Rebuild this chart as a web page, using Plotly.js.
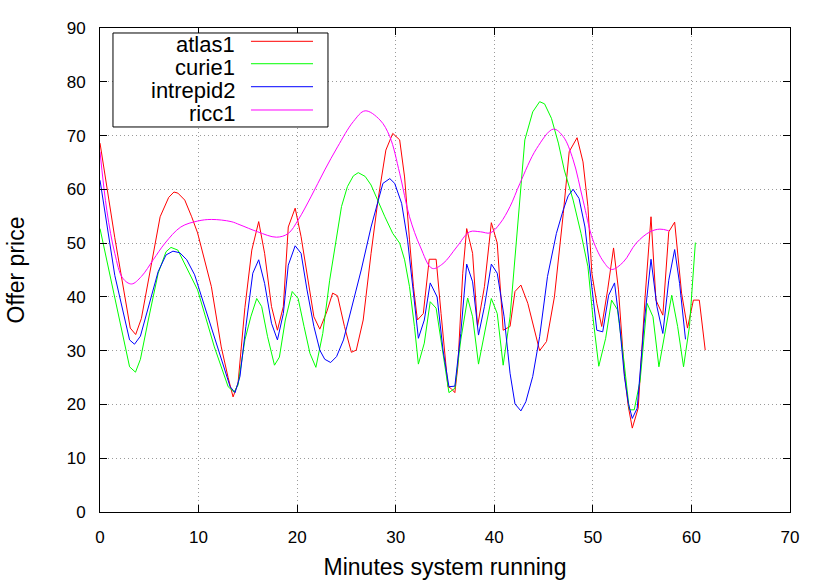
<!DOCTYPE html>
<html>
<head>
<meta charset="utf-8">
<script src="https://cdn.plot.ly/plotly-3.0.1.min.js"></script>
<style>html,body{margin:0;padding:0;background:#fff;}#chart{width:830px;height:581px;}</style>
</head>
<body>
<div id="chart"></div>
<script>
const seriesNames = ['atlas1', 'curie1', 'intrepid2', 'ricc1'];
const xTickValues = [0, 10, 20, 30, 40, 50, 60, 70];
const yTickValues = [0, 10, 20, 30, 40, 50, 60, 70, 80, 90];

const atlasMinutes = [0,1.5,3.07,3.62,4.2,5.2,6.1,6.97,7.5,7.9,8.6,9.3,9.9,11.3,12.3,13.0,13.5,14.0,14.7,15.4,16.1,16.7,17.4,18.0,18.6,19.1,19.8,20.4,21.1,21.7,22.3,23.0,23.6,24.1,24.8,25.5,26.0,26.7,27.5,28.2,29.0,29.7,30.4,30.9,31.4,31.8,32.2,32.8,33.4,34.1,34.6,35.3,35.6,36.0,36.3,36.8,37.2,37.8,38.3,39.0,39.7,40.3,40.9,41.6,42.1,42.7,43.4,44.1,44.6,45.3,46.1,47.0,47.6,48.4,49.0,49.5,49.9,50.4,50.9,51.5,52.1,52.6,53.2,53.6,54.0,54.6,55.3,55.9,56.4,57.1,57.7,58.3,59.0,59.6,60.2,60.8,61.4];
const atlasPrice = [68.6,51,34.2,33.0,36,46,54.9,58.5,59.5,59.3,58,54.9,51.9,41.9,30.7,25,21.4,23.9,38,48.7,54,48.1,38.2,33.8,38.2,53,56.5,51.2,43.1,36.3,34,37.2,40.7,40.2,34.5,29.7,30.1,35.7,48.1,58,67.3,70.4,69.2,62.3,50.6,41.9,35.7,36.9,47,47,36.9,23.3,23,22.2,27,44.4,52.7,48.1,34.5,41.9,53.8,50,33.8,34.5,41,42.2,38.8,33.8,30,31.7,40,55.5,67,69.6,65.1,56.8,44.4,38.8,34.5,41.3,49.1,41.3,25.8,19.6,15.6,19.3,40,54.9,39.4,36.6,52.1,53.9,40.7,34.2,39.4,39.4,30.1];

const curieMinutes = [0,1.5,3.0,3.6,4.1,4.9,5.9,6.7,7.2,7.9,8.8,9.9,11.6,13.0,13.6,14.0,14.7,15.3,15.9,16.4,17.0,17.7,18.2,18.8,19.5,20.1,20.7,21.3,21.9,22.6,23.3,24.0,24.5,25.1,25.7,26.2,26.9,27.5,28.2,28.9,29.7,30.4,30.9,31.4,31.9,32.3,32.9,33.5,34.1,34.8,35.4,36.0,36.6,37.3,37.8,38.4,39.0,39.7,40.3,40.9,41.6,42.1,42.5,43.1,43.9,44.6,45.1,45.8,46.5,47.1,48.0,48.8,49.5,50.0,50.6,51.3,51.9,52.5,53.1,53.7,54.2,54.8,55.5,56.1,56.7,57.4,58.0,58.6,59.2,59.8,60.4];
const curiePrice = [52.7,40,27,26,28.4,35.7,44.4,48.4,49.2,48.7,45.5,41.3,30.7,23.3,22.3,23.6,32,36.3,39.7,38.2,32.6,27.3,28.8,35.7,41,39.7,34.5,29.5,26.9,33.2,43.1,51.2,56.8,60.5,62.5,63.1,62.4,60.8,57.7,54.9,51.8,50,46.9,41.9,34.5,27.5,31.4,39.1,37.9,29.5,22.2,23,32,39.8,36.3,27.5,33.2,39.7,36.9,27.3,36.3,46.9,56,69.2,74.4,76.3,75.9,73.2,68.6,63.6,58,51.8,45.6,36.3,27.1,32.3,39.4,37.6,28.9,19,19,24.5,38.8,36.3,27,33.8,40.3,34.5,27,34.5,50.1];

const intrepidMinutes = [0,1.5,3.0,3.5,4.1,4.9,5.9,6.7,7.4,8.1,8.8,9.6,10.6,12.0,13.2,13.7,14.2,14.8,15.5,16.1,16.7,17.4,18.0,18.6,19.1,19.8,20.4,21.0,21.7,22.3,22.8,23.4,24.0,24.7,25.5,26.5,27.5,28.2,28.7,29.4,29.9,30.6,31.2,31.8,32.3,32.9,33.5,34.2,34.8,35.4,36.0,36.6,37.2,37.8,38.4,39.0,39.7,40.3,41.0,41.6,42.1,42.7,43.2,43.9,44.6,45.4,46.3,47.0,47.5,48.0,48.6,49.2,49.8,50.4,51.0,51.6,52.2,52.7,53.2,53.6,54.0,54.5,55.2,55.9,56.5,57.1,57.7,58.3,58.8,59.4];
const intrepidPrice = [61.7,44,32,31.2,32.7,38.2,44.7,47.8,48.5,48.2,46.9,44.1,38.2,30.1,23.3,22.2,25.2,34.5,44.4,46.9,42.5,35.1,32,36.9,45.9,49.5,48.1,41.3,34.5,30.1,28.4,27.8,28.9,32,37.6,45,53,58,61.1,62,61.1,57.4,50.6,40.7,32.3,35.7,42.6,40,30.1,23.3,23.4,33.2,46.1,42.8,32.9,38.2,46.1,44.4,36.3,25.8,20.1,18.8,20.5,25.2,32.6,43.8,51.8,56.2,58.8,60,58.3,53,43.8,33.8,33.5,40.3,42.6,35.1,25.2,20.2,17.4,19.3,35.1,47,38.2,33.2,43.1,48.8,42.5,32.1];

const riccMinutes = [0,0.7,1.5,2.3,3.2,4.2,5.4,6.6,8.2,9.9,11.3,13.3,14.2,16.0,17.9,19.1,20.1,21.4,22.8,24.1,25.7,26.9,28.4,29.4,30.4,31.4,32.5,33.7,34.8,36.2,37.5,38.6,39.6,40.6,41.6,42.6,44.3,46.0,47.0,48.0,49.0,50.0,51.1,51.9,53.1,54.4,55.8,56.8,57.7];
const riccPrice = [67,56,48.1,43.5,42.4,43.8,46.9,50,53,54.1,54.4,54,53.4,52.1,51.1,51.8,54.3,58.6,63.6,67.9,72.6,74.6,72.9,69.8,63,54.9,49.3,45.3,46.2,49.3,52.1,52.1,51.9,53.7,56.8,61.1,67.6,71.2,69.8,65.5,58,50.6,46.5,45.1,46.5,50,52.1,52.6,52.3];

const lineColors = ['#ff0000', '#00ff00', '#0000ff', '#ff00ff'];
const xs = [atlasMinutes, curieMinutes, intrepidMinutes, riccMinutes];
const ys = [atlasPrice, curiePrice, intrepidPrice, riccPrice];

const traces = seriesNames.map((name, i) => ({
  type: 'scatter',
  mode: 'lines',
  name: name,
  x: xs[i],
  y: ys[i],
  line: {color: lineColors[i], width: 1, shape: i === 3 ? 'spline' : 'linear', smoothing: 1},
  showlegend: false,
  hoverinfo: 'skip'
}));

const FONT = '"Liberation Sans", Arial, Helvetica, sans-serif';

// Legend built in gnuplot style: right-aligned labels with samples on the right
const shapes = [{
  type: 'rect', xref: 'paper', yref: 'paper',
  x0: 0.0188, x1: 0.3304, y0: 0.7955, y1: 0.9897,
  line: {color: '#000', width: 1}, fillcolor: '#fff', layer: 'above'
}];
const annotations = [];
const rowY = [0.9725, 0.9262, 0.8787, 0.8306];
seriesNames.forEach((name, i) => {
  shapes.push({
    type: 'line', xref: 'paper', yref: 'paper',
    x0: 0.2188, x1: 0.3087, y0: rowY[i], y1: rowY[i],
    line: {color: lineColors[i], width: 1}, layer: 'above'
  });
  annotations.push({
    xref: 'paper', yref: 'paper', x: 0.198, y: rowY[i] - 0.007,
    xanchor: 'right', yanchor: 'middle', text: name, showarrow: false,
    font: {family: FONT, size: 22, color: '#000'}
  });
});

const axisCommon = {
  showline: true, mirror: 'ticks', linecolor: '#000', linewidth: 1,
  ticks: 'inside', ticklen: 7, tickwidth: 1, tickcolor: '#000',
  showgrid: true, gridcolor: '#9a9a9a', griddash: '1px,3px', gridwidth: 1,
  zeroline: false, tickfont: {family: FONT, size: 17, color: '#000'}
};

const layout = {
  width: 830, height: 581,
  margin: {l: 100, r: 40, t: 28, b: 69},
  paper_bgcolor: '#fff', plot_bgcolor: '#fff',
  showlegend: false,
  xaxis: Object.assign({}, axisCommon, {
    range: [0, 70], tickvals: xTickValues, ticktext: xTickValues.map(String),
    ticklabelstandoff: 10,
    title: {text: 'Minutes system running', font: {family: FONT, size: 23, color: '#000'}, standoff: 12}
  }),
  yaxis: Object.assign({}, axisCommon, {
    range: [0, 90], tickvals: yTickValues, ticktext: yTickValues.map(String),
    ticklabelstandoff: 10,
    title: {text: 'Offer price', font: {family: FONT, size: 23, color: '#000'}, standoff: 35}
  }),
  shapes: shapes,
  annotations: annotations
};

Plotly.newPlot('chart', traces, layout, {staticPlot: true, displayModeBar: false});
</script>
</body>
</html>
